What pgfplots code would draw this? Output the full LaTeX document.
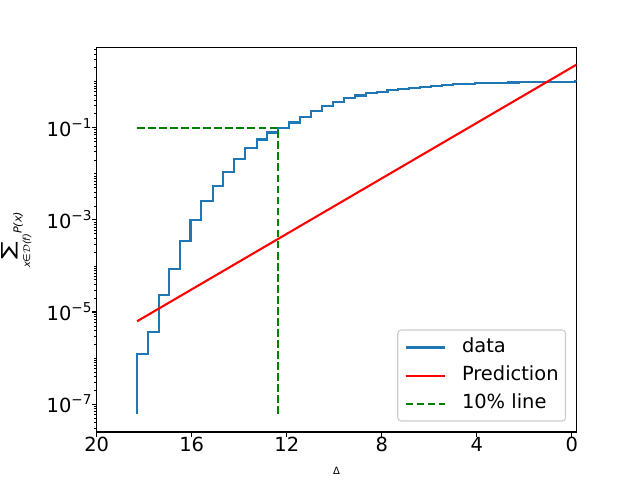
\documentclass[border=0pt]{standalone}
\usepackage{fontspec}
\setmainfont{DejaVu Sans}
\usepackage{graphicx}
\usepackage{pgfplots}
\pgfplotsset{compat=1.18}
\definecolor{mplblue}{HTML}{1F77B4}
\definecolor{mplgreen}{HTML}{008000}
\definecolor{legframe}{HTML}{CCCCCC}
\newcommand{\tp}[1]{10\raisebox{5.5pt}{\fontsize{9.8}{10}\selectfont −#1}}
\begin{document}
\begin{tikzpicture}
\useasboundingbox (0,0) rectangle (460.8pt,345.6pt);
\begin{axis}[
  at={(69.6pt,34.6pt)}, anchor=south west,
  scale only axis, width=345.6pt, height=276.5pt,
  x dir=reverse, xmin=-0.2, xmax=20,
  ymode=log, ymin=2.5e-8, ymax=5.4,
  xtick={0,4,8,12,16,20}, xticklabels={0,4,8,12,16,20},
  ytick={1e-7,1e-5,1e-3,1e-1}, yticklabels={\tp{7},\tp{5},\tp{3},\tp{1}},
  minor ytick={2e-8,3e-8,4e-8,5e-8,6e-8,7e-8,8e-8,9e-8,
    2e-7,3e-7,4e-7,5e-7,6e-7,7e-7,8e-7,9e-7,
    1e-6,2e-6,3e-6,4e-6,5e-6,6e-6,7e-6,8e-6,9e-6,
    2e-5,3e-5,4e-5,5e-5,6e-5,7e-5,8e-5,9e-5,
    1e-4,2e-4,3e-4,4e-4,5e-4,6e-4,7e-4,8e-4,9e-4,
    2e-3,3e-3,4e-3,5e-3,6e-3,7e-3,8e-3,9e-3,
    1e-2,2e-2,3e-2,4e-2,5e-2,6e-2,7e-2,8e-2,9e-2,
    2e-1,3e-1,4e-1,5e-1,6e-1,7e-1,8e-1,9e-1,
    1,2,3,4,5},
  tick pos=left, tick align=outside,
  major tick length=3.5pt, minor tick length=2pt,
  every major tick/.append style={line width=0.8pt, black},
  every minor tick/.append style={line width=0.6pt, black},
  axis line style={line width=0.8pt},
  tick label style={font=\fontsize{14}{16}\selectfont},
  xticklabel style={inner sep=0pt},
  yticklabel style={inner sep=0pt, anchor=base east, yshift=-6pt},
  xlabel={\fontsize{7.2}{8}\selectfont Δ},
  xlabel style={at={(axis description cs:0.5,-0.1016)}, anchor=center},
  ylabel={\begin{tabular}[b]{@{}c@{}}\scalebox{1.45}[1.0]{\fontsize{13}{13}\selectfont ∑}\\[-1pt]{\fontsize{7}{8}\selectfont\itshape x∈$\mathcal{D}$(f)}\end{tabular}\raisebox{6pt}{\fontsize{8}{9}\selectfont\itshape P(x)}},
  ylabel style={at={(axis description cs:-0.163,0.5)}, anchor=center, inner sep=0pt},
  legend style={at={(0.978,0.027)}, anchor=south east, draw=legframe, line width=0.8pt,
    rounded corners=2.5pt, fill=white, font=\fontsize{14}{16}\selectfont,
    inner xsep=5pt, inner ysep=5.8pt, row sep=6.7pt, column sep=11.8pt,
    nodes={inner sep=0pt, text height=10.5pt, text depth=3pt}},
  legend cell align=left,
  legend image code/.code={\draw[#1] (0pt,0pt) -- (28pt,0pt);},
]
\addplot[const plot, color=mplblue, line width=1.5pt] table {
x y
18.30 6e-8
18.30 1.23e-6
17.83 3.76e-6
17.39 2.35e-5
16.96 8.7e-5
16.51 3.54e-4
16.05 1.0e-3
15.59 2.57e-3
15.11 5.5e-3
14.67 1.12e-2
14.21 2.06e-2
13.75 3.57e-2
13.27 5.55e-2
12.82 7.9e-2
12.36 0.100
11.90 0.130
11.44 0.175
10.98 0.232
10.52 0.300
10.06 0.37
9.60 0.44
9.14 0.50
8.68 0.56
8.22 0.61
7.76 0.66
7.30 0.70
6.84 0.74
6.38 0.78
5.92 0.82
5.46 0.855
5.00 0.885
4.54 0.91
4.08 0.925
3.62 0.94
3.16 0.95
2.70 0.958
2.24 0.962
1.78 0.965
1.32 0.967
0.86 0.968
0.40 0.969
-0.12 1.04
-0.20 1.04
};
\addlegendentry{data}
\addplot[color=red, line width=1.5pt] coordinates {(18.3,6.3e-6) (-0.2,2.35)};
\addlegendentry{Prediction}
\addplot[color=mplgreen, line width=1.5pt, dash pattern=on 5.55pt off 2.4pt] coordinates {(18.3,0.1) (12.37,0.1) (12.37,6e-8)};
\addlegendentry{10\% line}
\end{axis}
\end{tikzpicture}
\end{document}
